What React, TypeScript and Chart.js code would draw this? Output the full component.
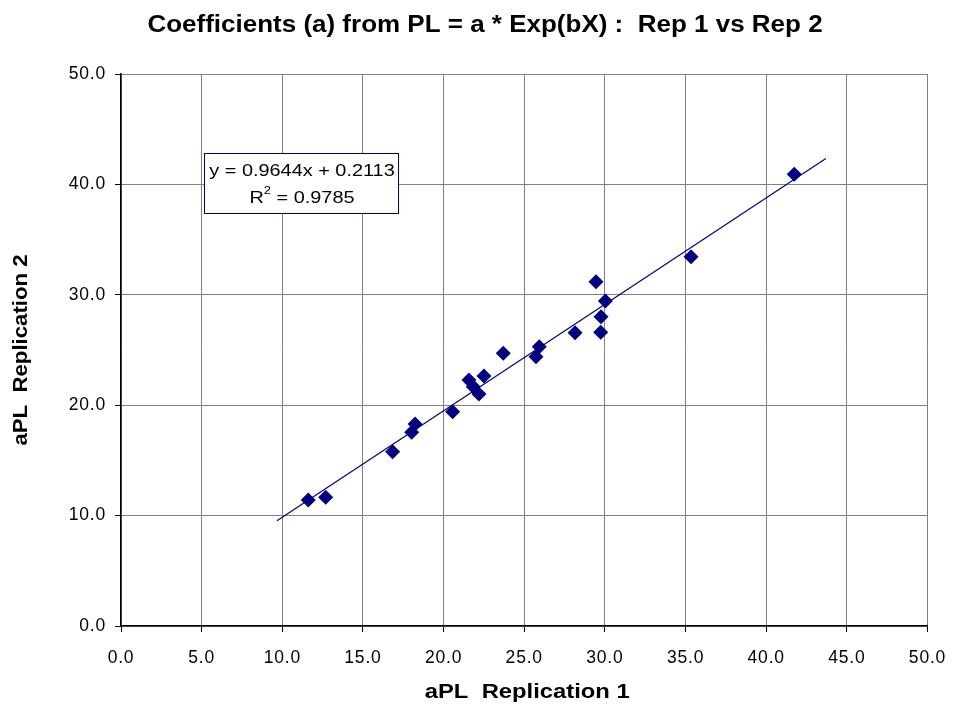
import React, { useEffect, useRef } from "react";
import { Chart, registerables } from "chart.js";

Chart.register(...registerables);

// Fitted coefficients a from PL = a * Exp(bX), replication 1 vs replication 2
const rep1: number[] = [11.61, 12.69, 16.84, 18.02, 18.23, 20.56, 21.57, 21.84, 22.19, 22.5, 23.7, 25.73, 25.93, 28.15, 29.45, 29.74, 29.76, 30.03, 35.34, 41.74];
const rep2: number[] = [11.41, 11.66, 15.79, 17.54, 18.3, 19.41, 22.28, 21.68, 21.01, 22.64, 24.7, 24.39, 25.3, 26.57, 31.19, 26.6, 28.02, 29.44, 33.45, 40.91];

// Linear trend line
const slope = 0.9644;
const intercept = 0.2113;
const rSquared = 0.9785;
const trendRange: number[] = [9.67, 43.7];

const xTicks: number[] = [0, 5, 10, 15, 20, 25, 30, 35, 40, 45, 50];
const yTicks: number[] = [0, 10, 20, 30, 40, 50];

const titleText = "Coefficients (a) from PL = a * Exp(bX) :  Rep 1 vs Rep 2";
const xTitle = "aPL  Replication 1";
const yTitle = "aPL  Replication 2";

const NAVY = "#000080";
const FONT = "'Liberation Sans', Arial, sans-serif";

// Draws text widened horizontally (along its own direction) by factor sx
function wideText(
  ctx: CanvasRenderingContext2D,
  text: string,
  x: number,
  y: number,
  sx: number,
  rotation = 0,
  align: CanvasTextAlign = "center"
) {
  ctx.save();
  ctx.translate(x, y);
  ctx.rotate(rotation);
  ctx.scale(sx, 1);
  ctx.textAlign = align;
  ctx.fillText(text, 0, 0);
  ctx.restore();
}

const overlayPlugin = {
  id: "overlay",
  beforeDraw(chart: any) {
    // slightly wider spacing for the tick labels
    (chart.ctx as any).letterSpacing = "0.8px";
  },
  afterDraw(chart: any) {
    const ctx = chart.ctx as CanvasRenderingContext2D;
    (ctx as any).letterSpacing = "0px";
    const xs = chart.scales.x;
    const ys = chart.scales.y;
    const area = chart.chartArea;
    ctx.save();
    ctx.fillStyle = "#000";
    ctx.textBaseline = "middle";

    // chart title
    ctx.font = `bold 23px ${FONT}`;
    wideText(ctx, titleText, 485, 26, 1.13);

    // axis titles
    ctx.font = `bold 20px ${FONT}`;
    wideText(ctx, xTitle, (area.left + area.right) / 2 + 3, 692, 1.19);
    wideText(ctx, yTitle, 21, (area.top + area.bottom) / 2, 1.11, -Math.PI / 2);

    // equation box
    const bx = Math.round(xs.getPixelForValue(5.15));
    const by = Math.round(ys.getPixelForValue(42.8));
    const bw = 194;
    const bh = 60;
    ctx.fillStyle = "#fff";
    ctx.fillRect(bx, by, bw, bh);
    ctx.strokeStyle = NAVY;
    ctx.lineWidth = 1;
    ctx.strokeRect(bx + 0.5, by + 0.5, bw, bh);
    ctx.fillStyle = "#000";
    const cx = bx + bw / 2 + 1;
    const sx = 1.17;
    ctx.font = `17px ${FONT}`;
    wideText(ctx, `y = ${slope.toFixed(4)}x + ${intercept.toFixed(4)}`, cx, by + 18, sx);

    const rest = ` = ${rSquared.toFixed(4)}`;
    const wR = ctx.measureText("R").width * sx;
    const wRest = ctx.measureText(rest).width * sx;
    ctx.font = `11px ${FONT}`;
    const wSup = ctx.measureText("2").width * sx;
    const x0 = cx - (wR + wSup + wRest) / 2;
    ctx.font = `17px ${FONT}`;
    wideText(ctx, "R", x0, by + 45, sx, 0, "left");
    ctx.font = `11px ${FONT}`;
    wideText(ctx, "2", x0 + wR, by + 38, sx, 0, "left");
    ctx.font = `17px ${FONT}`;
    wideText(ctx, rest, x0 + wR + wSup, by + 45, sx, 0, "left");
    ctx.restore();
  },
};

export default function App() {
  const ref = useRef<HTMLCanvasElement | null>(null);

  useEffect(() => {
    if (!ref.current) return;
    const points = rep1.map((x, i) => ({ x, y: rep2[i] }));
    const trend = trendRange.map((x) => ({ x, y: slope * x + intercept }));
    const chart = new Chart(ref.current, {
      type: "scatter",
      data: {
        datasets: [
          {
            label: "Rep 1 vs Rep 2",
            data: points,
            pointStyle: "rectRot",
            pointRadius: 7.5,
            backgroundColor: NAVY,
            borderColor: NAVY,
            borderWidth: 0,
            showLine: false,
          },
          {
            label: "Linear trend",
            data: trend,
            showLine: true,
            borderColor: NAVY,
            borderWidth: 1.2,
            pointRadius: 0,
            fill: false,
          },
        ],
      },
      options: {
        animation: false,
        responsive: false,
        devicePixelRatio: 1,
        layout: { padding: { top: 74, right: 25.5, left: 0, bottom: 0 } },
        plugins: {
          legend: { display: false },
          tooltip: { enabled: false },
          title: { display: false },
        },
        scales: {
          x: {
            type: "linear",
            min: 0,
            max: 50,
            afterBuildTicks: (s: any) => {
              s.ticks = xTicks.map((v) => ({ value: v }));
            },
            afterFit: (s: any) => {
              s.height = 80;
              s.paddingLeft = 0;
              s.paddingRight = 0;
            },
            border: { color: "#000", width: 1.5 },
            grid: { color: "#808080", lineWidth: 1, tickLength: 6, tickColor: "#000" },
            ticks: {
              color: "#000",
              font: { family: FONT, size: 17.5 },
              padding: 16,
              maxRotation: 0,
              callback: (v: any) => Number(v).toFixed(1),
            },
            title: { display: false },
          },
          y: {
            type: "linear",
            min: 0,
            max: 50,
            afterBuildTicks: (s: any) => {
              s.ticks = yTicks.map((v) => ({ value: v }));
            },
            afterFit: (s: any) => {
              s.width = 121;
              s.paddingTop = 0;
              s.paddingBottom = 0;
            },
            border: { color: "#000", width: 1.5 },
            grid: { color: "#808080", lineWidth: 1, tickLength: 6, tickColor: "#000" },
            ticks: {
              color: "#000",
              font: { family: FONT, size: 17.5 },
              padding: 9,
              callback: (v: any) => Number(v).toFixed(1),
            },
            title: { display: false },
          },
        },
      },
      plugins: [overlayPlugin],
    });
    return () => chart.destroy();
  }, []);

  return (
    <div style={{ position: "fixed", left: 0, top: 0, width: 953, height: 706, background: "#fff" }}>
      <canvas ref={ref} width={953} height={706} style={{ display: "block" }} />
    </div>
  );
}
